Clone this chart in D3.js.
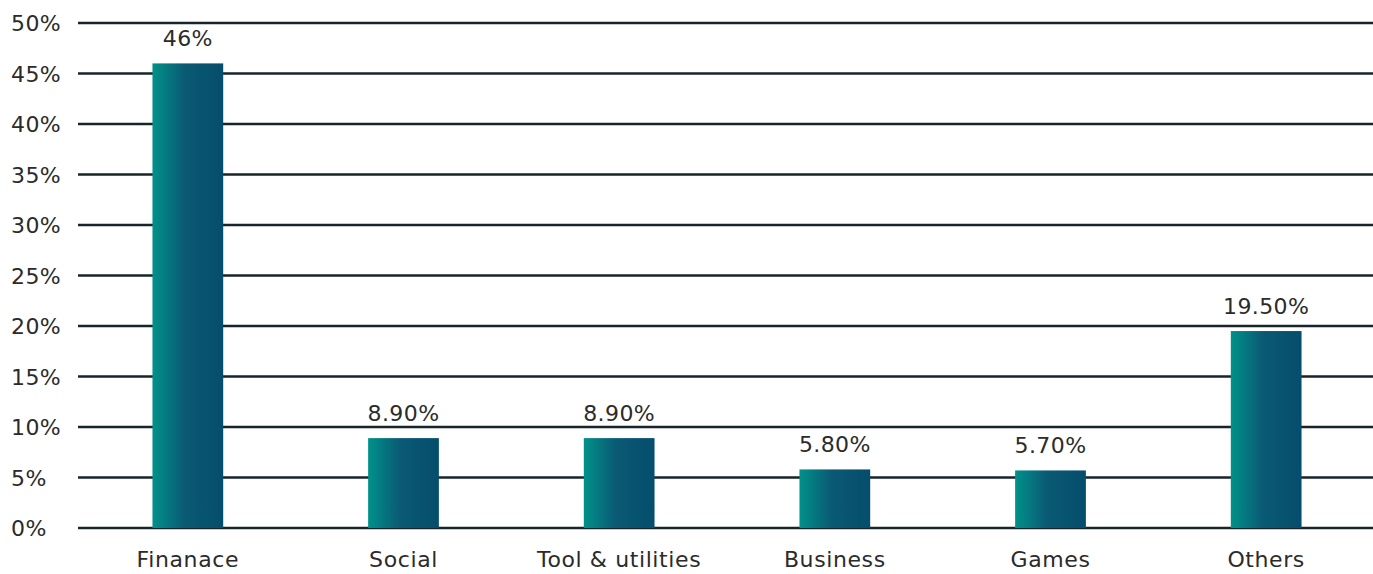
<!DOCTYPE html>
<html>
<head>
<meta charset="utf-8">
<script src="https://cdn.jsdelivr.net/npm/d3@7"></script>
<style>
  body { margin: 0; background: #fff; }
  text { font-family: "DejaVu Sans", sans-serif; fill: #2b2b2b; }
</style>
</head>
<body>
<div id="chart"></div>
<script>
const categories = ["Finanace", "Social", "Tool & utilities", "Business", "Games", "Others"]
const values = [46, 8.9, 8.9, 5.8, 5.7, 19.5]
const valueLabels = ["46%", "8.90%", "8.90%", "5.80%", "5.70%", "19.50%"]
const yTicks = [0, 5, 10, 15, 20, 25, 30, 35, 40, 45, 50]

const width = 1373, height = 574
const svg = d3.select("#chart").append("svg")
    .attr("width", width)
    .attr("height", height)

// gradient for bars
const grad = svg.append("defs").append("linearGradient")
    .attr("id", "barGrad")
    .attr("x1", "0%").attr("x2", "100%")
grad.append("stop").attr("offset", "0%").attr("stop-color", "#00918a")
grad.append("stop").attr("offset", "45%").attr("stop-color", "#0a5a74")
grad.append("stop").attr("offset", "100%").attr("stop-color", "#054d6c")

const x = d3.scaleBand().domain(categories).range([80, 1374])
    .paddingInner(0.672).paddingOuter(0.336)
const y = d3.scaleLinear().domain([0, 50]).range([528, 23])

// gridlines
svg.append("g")
    .selectAll("line")
    .data(yTicks)
    .enter()
    .append("line")
    .attr("x1", 78).attr("x2", width)
    .attr("y1", d => y(d)).attr("y2", d => y(d))
    .attr("stroke", "#17252a")
    .attr("stroke-width", 2.5)

// y labels
svg.append("g")
    .selectAll("text")
    .data(yTicks)
    .enter()
    .append("text")
    .attr("x", 11)
    .attr("y", d => y(d) + 8)
    .style("font-size", "22px")
    .style("letter-spacing", "0.4px")
    .text(d => d + "%")

// bars
svg.append("g")
    .selectAll("rect")
    .data(values)
    .enter()
    .append("rect")
    .attr("x", (d, i) => x(categories[i]))
    .attr("y", d => y(d))
    .attr("width", x.bandwidth())
    .attr("height", d => y(0) - y(d))
    .attr("fill", "url(#barGrad)")

// value labels
svg.append("g")
    .selectAll("text")
    .data(values)
    .enter()
    .append("text")
    .attr("x", (d, i) => x(categories[i]) + x.bandwidth() / 2)
    .attr("y", d => y(d) - 17)
    .attr("text-anchor", "middle")
    .style("font-size", "22px")
    .style("letter-spacing", "0.4px")
    .text((d, i) => valueLabels[i])

// x axis labels
const xAxis = d3.axisBottom(x).tickSize(0).tickPadding(0)
const gx = svg.append("g")
    .attr("transform", "translate(0,567)")
    .call(xAxis)
gx.select(".domain").remove()
gx.selectAll("text")
    .attr("dy", "0")
    .style("font-size", "22px")
    .style("letter-spacing", "0.6px")
    .style("font-family", "'DejaVu Sans', sans-serif")
    .attr("fill", "#2b2b2b")
</script>
</body>
</html>
